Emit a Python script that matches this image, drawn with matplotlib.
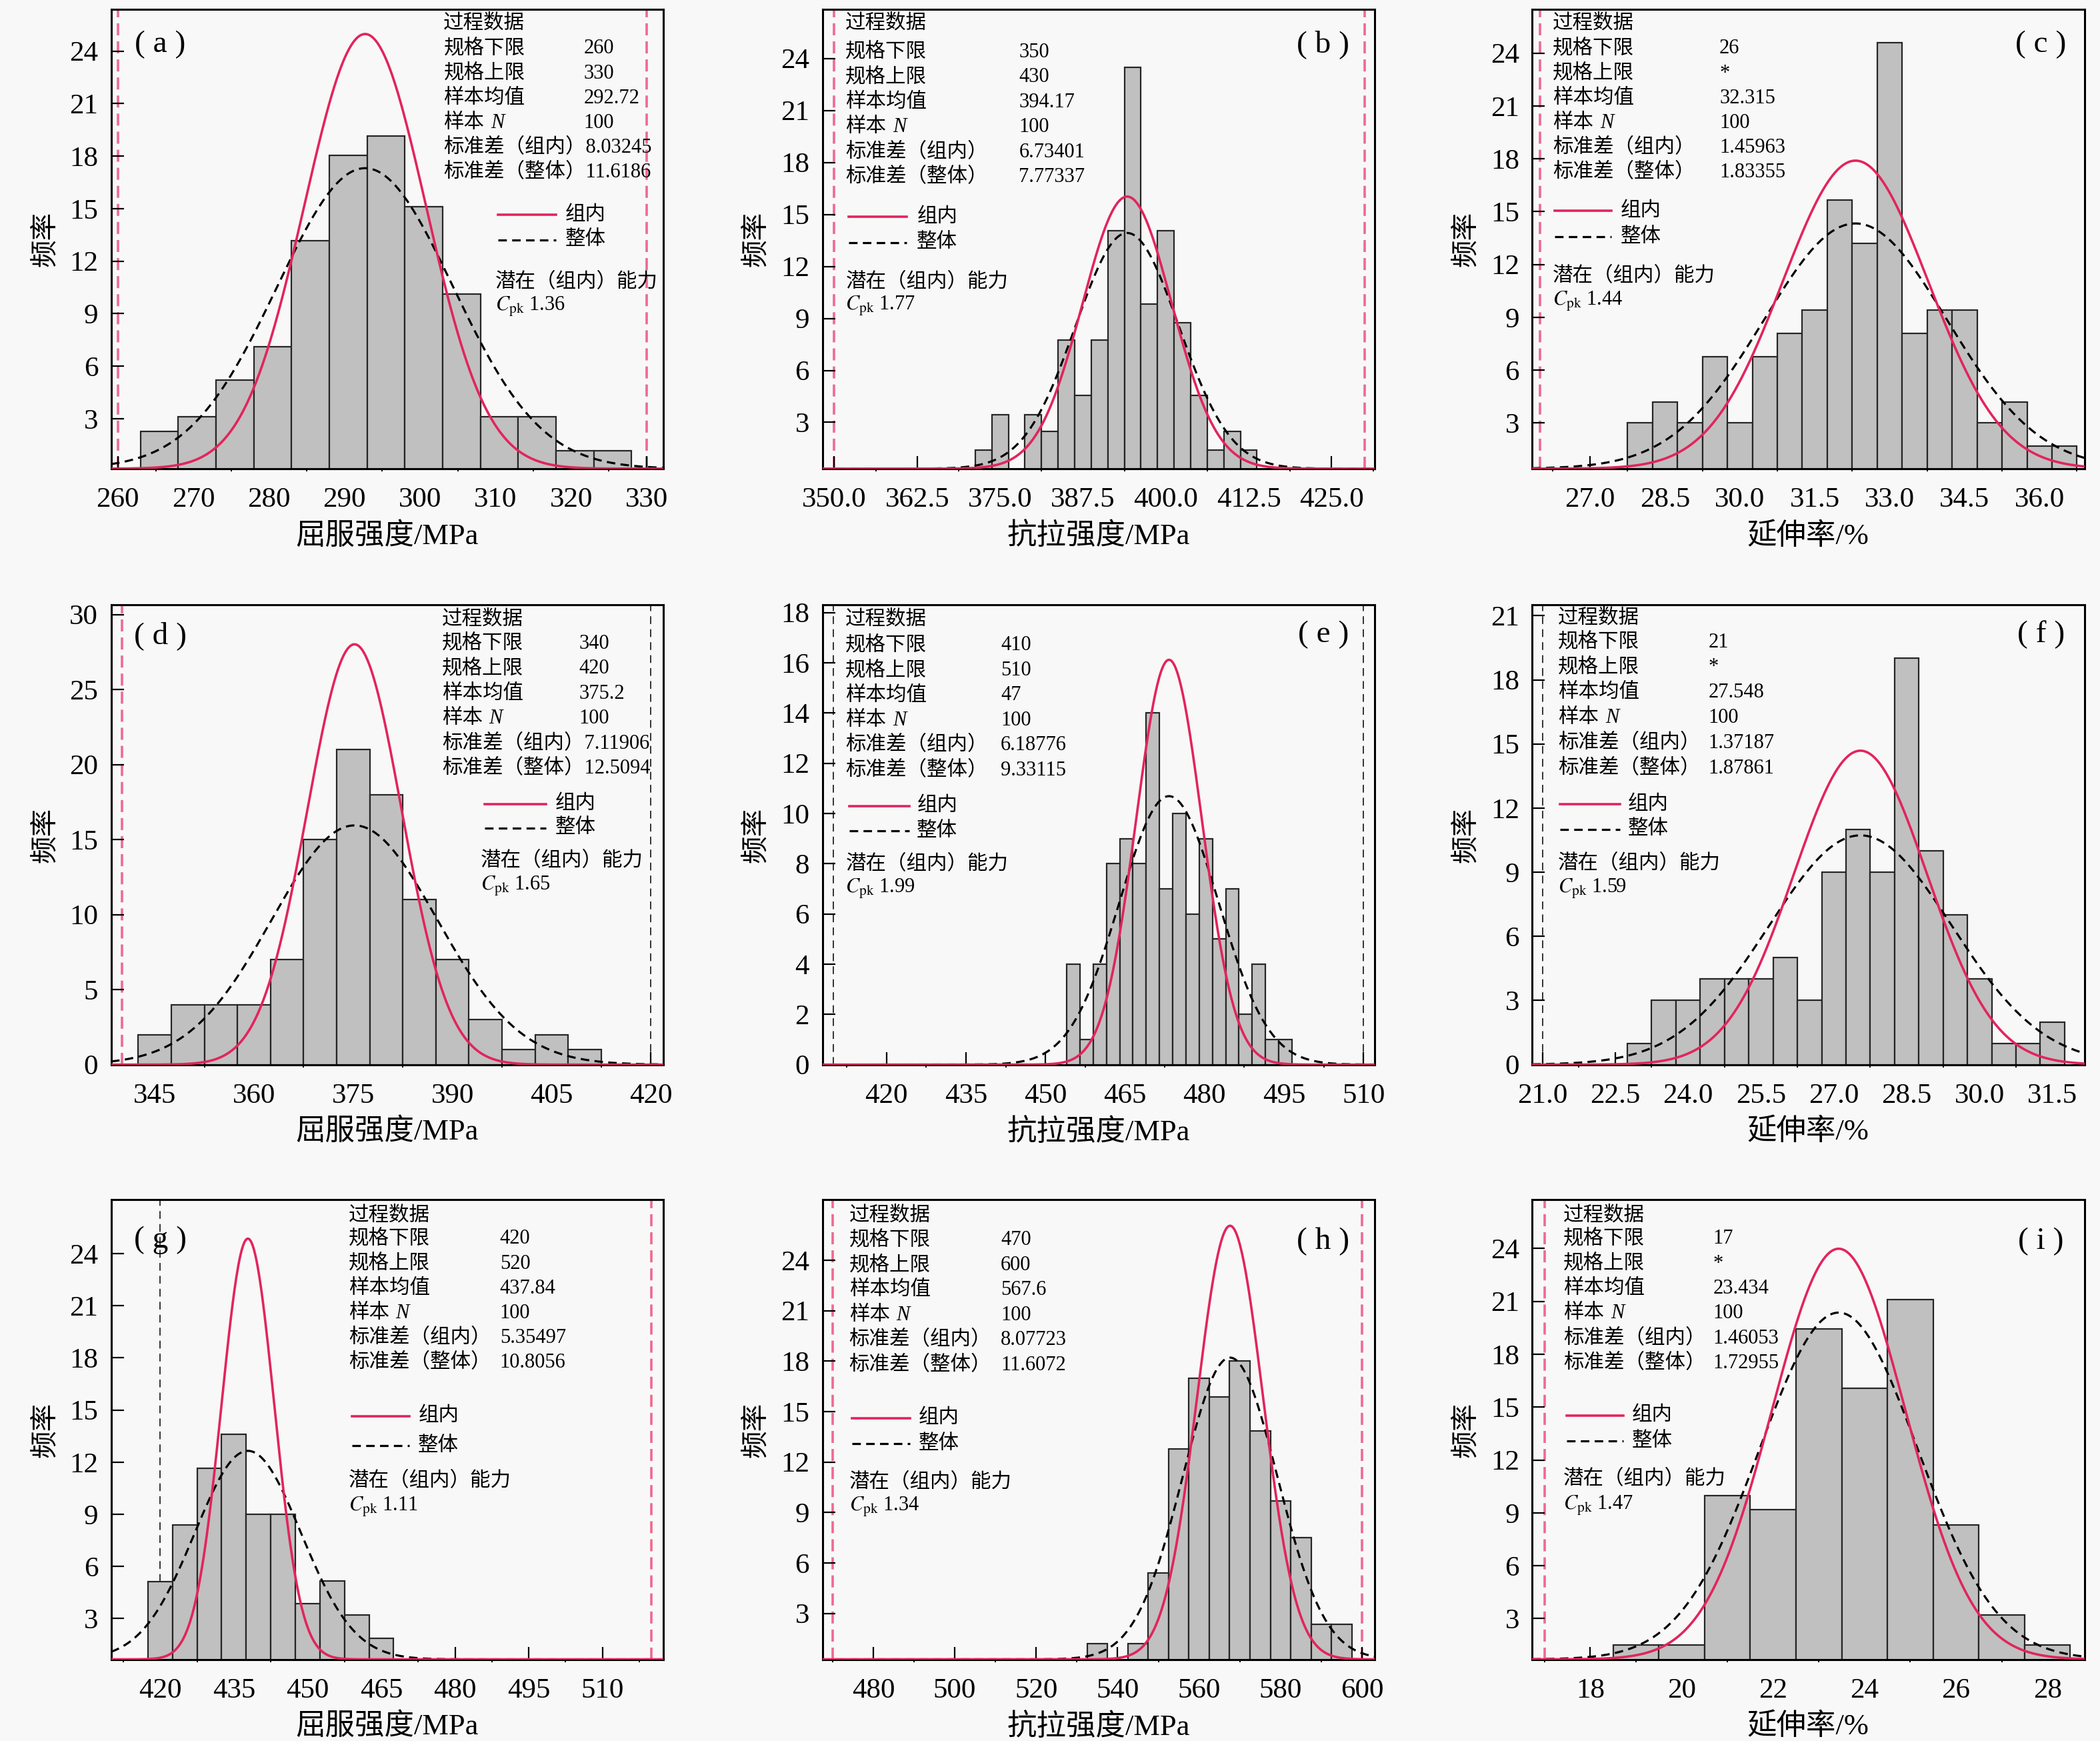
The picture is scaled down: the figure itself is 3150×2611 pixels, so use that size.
import numpy as np
import matplotlib
matplotlib.use("Agg")
import matplotlib.pyplot as plt
from matplotlib.ticker import FixedLocator, FormatStrFormatter, AutoMinorLocator

plt.rcParams['font.family'] = ['Liberation Serif', 'Noto Sans CJK SC']
plt.rcParams['mathtext.fontset'] = 'stix'
plt.rcParams['axes.unicode_minus'] = False

# ---------------- data ----------------
tags = ['a', 'b', 'c', 'd', 'e', 'f', 'g', 'h', 'i']
x_titles = ['屈服强度/MPa', '抗拉强度/MPa', '延伸率/%'] * 3

lsl = [260, 350, 26, 340, 410, 21, 420, 470, 17]
usl = [330, 430, None, 420, 510, None, 520, 600, None]
lsl_text = ['260', '350', '26', '340', '410', '21', '420', '470', '17']
usl_text = ['330', '430', '*', '420', '510', '*', '520', '600', '*']
mean_text = ['292.72', '394.17', '32.315', '375.2', '47', '27.548', '437.84', '567.6', '23.434']
n_text = ['100'] * 9
sdw_text = ['8.03245', '6.73401', '1.45963', '7.11906', '6.18776', '1.37187', '5.35497', '8.07723', '1.46053']
sdo_text = ['11.6186', '7.77337', '1.83355', '12.5094', '9.33115', '1.87861', '10.8056', '11.6072', '1.72955']
cpk_text = ['1.36', '1.77', '1.44', '1.65', '1.99', '1.59', '1.11', '1.34', '1.47']

# centre of the fitted curves (panel e prints "47", curve sits at ~473.3)
curve_mean = [292.72, 394.17, 32.315, 375.2, 473.3, 27.548, 437.84, 567.6, 23.434]
sd_within = [8.03245, 6.73401, 1.45963, 7.11906, 6.18776, 1.37187, 5.35497, 8.07723, 1.46053]
sd_overall = [11.6186, 7.77337, 1.83355, 12.5094, 9.33115, 1.87861, 10.8056, 11.6072, 1.72955]
curve_area = [500, 265, 64, 500, 250, 50.5, 325, 522, 85.3]

bin_start = [263, 371.25, 27.75, 342.5, 454, 22.75, 417.5, 532.5, 18.5]
bin_width = [5, 2.5, 0.5, 5, 2.5, 0.5, 5, 5, 1]

freq_a = [2.25, 3.12, 5.21, 7.12, 13.16, 18.05, 19.13, 15.09, 10.1, 3.12, 3.12, 1.15, 1.15]
freq_b = [1.4, 3.46, 0, 3.46, 2.49, 7.74, 4.55, 7.74, 14.07, 23.48, 9.84, 14.07, 8.77, 4.55, 1.4, 2.49, 1.4]
freq_c = [3.0, 4.2, 3.0, 6.77, 3.0, 6.77, 8.1, 9.4, 15.65, 13.2, 24.6, 8.1, 9.4, 9.4, 3.0, 4.2, 1.7, 1.7]
freq_d = [2, 4, 4, 4, 7, 15, 21, 18, 11, 7, 3, 1, 2, 1]
freq_e = [4, 1, 4, 8, 9, 8, 14, 7, 10, 6, 9, 5, 7, 2, 4, 1, 1]
freq_f = [1, 3, 3, 4, 4, 4, 5, 3, 9, 11, 9, 19, 10, 7, 4, 1, 1, 2]
freq_g = [5.12, 8.38, 11.63, 13.62, 8.99, 8.99, 3.86, 5.16, 3.19, 1.87]
freq_h = [1.21, 0, 1.21, 5.42, 12.79, 17.0, 15.88, 18.0, 13.84, 9.67, 7.52, 2.37, 2.37]
freq_i = [1.5, 1.5, 9.98, 9.18, 19.45, 16.08, 21.11, 8.32, 3.2, 1.5]
freqs = [freq_a, freq_b, freq_c, freq_d, freq_e, freq_f, freq_g, freq_h, freq_i]

xticks = [
    [260, 270, 280, 290, 300, 310, 320, 330],
    [350.0, 362.5, 375.0, 387.5, 400.0, 412.5, 425.0],
    [27.0, 28.5, 30.0, 31.5, 33.0, 34.5, 36.0],
    [345, 360, 375, 390, 405, 420],
    [420, 435, 450, 465, 480, 495, 510],
    [21.0, 22.5, 24.0, 25.5, 27.0, 28.5, 30.0, 31.5],
    [420, 435, 450, 465, 480, 495, 510],
    [480, 500, 520, 540, 560, 580, 600],
    [18, 20, 22, 24, 26, 28],
]
yticks = [
    [3, 6, 9, 12, 15, 18, 21, 24],
    [3, 6, 9, 12, 15, 18, 21, 24],
    [3, 6, 9, 12, 15, 18, 21, 24],
    [0, 5, 10, 15, 20, 25, 30],
    [0, 2, 4, 6, 8, 10, 12, 14, 16, 18],
    [0, 3, 6, 9, 12, 15, 18, 21],
    [3, 6, 9, 12, 15, 18, 21, 24],
    [3, 6, 9, 12, 15, 18, 21, 24],
    [3, 6, 9, 12, 15, 18, 21, 24],
]
xfmt = ['%d', '%.1f', '%.1f', '%d', '%d', '%.1f', '%d', '%d', '%d']

# ---------------- layout / style ----------------
xlims = [(259.1, 332.2), (348.2, 431.5), (25.84, 36.9), (338.4, 421.9), (407.9, 512.1),
         (20.79, 32.16), (410.0, 522.4), (467.5, 603.1), (16.73, 28.81)]
ylims = [(0.14, 26.4), (0.33, 26.85), (0.4, 26.5), (0, 30.64), (0, 18.3),
         (0, 21.5), (0.65, 27.1), (0.27, 27.6), (0.69, 26.77)]
lsl_style = ['pink', 'pink', 'pink', 'pink', 'black', 'black', 'black', 'pink', 'pink']
usl_style = ['pink', 'pink', None, 'black', 'black', None, 'pink', 'pink', None]

# text block: label x, value x, title y, first row y, row step, values joined
tx = [0.602, 0.042, 0.037, 0.599, 0.042, 0.047, 0.430, 0.0485, 0.0565]
vx = [0.856, 0.356, 0.339, 0.847, 0.323, 0.319, 0.704, 0.323, 0.327]
title_y = [0.969, 0.969, 0.969, 0.969, 0.969, 0.971, 0.965, 0.965, 0.965]
row_y0 = [0.914, 0.906, 0.914, 0.916, 0.912, 0.919, 0.915, 0.912, 0.915]
row_dy = [0.054, 0.0544, 0.054, 0.0544, 0.0544, 0.0548, 0.054, 0.0544, 0.0542]
joined = [True, False, False, True, False, False, False, False, False]
leg_x = [(0.701, 0.806), (0.048, 0.153), (0.041, 0.143), (0.677, 0.788), (0.0485, 0.157),
         (0.050, 0.159), (0.436, 0.540), (0.054, 0.159), (0.063, 0.165)]
leg_tx = [0.822, 0.171, 0.160, 0.804, 0.171, 0.173, 0.556, 0.174, 0.180]
leg_y = [(0.552, 0.498), (0.548, 0.492), (0.561, 0.504), (0.567, 0.515), (0.563, 0.508),
         (0.566, 0.512), (0.529, 0.465), (0.525, 0.469), (0.531, 0.475)]
cap_x = [0.696, 0.042, 0.037, 0.669, 0.042, 0.047, 0.430, 0.0485, 0.0565]
cap_y = [(0.406, 0.352), (0.406, 0.354), (0.418, 0.364), (0.442, 0.389), (0.435, 0.383),
         (0.437, 0.383), (0.388, 0.332), (0.385, 0.332), (0.392, 0.334)]
tag_xy = [(0.089, 0.923), (0.907, 0.923), (0.921, 0.923), (0.089, 0.933), (0.907, 0.935),
          (0.921, 0.936), (0.089, 0.912), (0.907, 0.909), (0.921, 0.909)]

col_left = [0.0529, 0.3916, 0.7296]
col_w = 0.263
row_bottom = [0.7308, 0.3885, 0.0469]
row_h = 0.264

BG = '#f8f8f8'
BAR = '#c0c0c0'
EDGE = '#262626'
RED = '#e2245c'
PINK = '#ee6a90'
TXT = 22

fig = plt.figure(figsize=(31.5, 26.11), dpi=100, facecolor=BG)

for i, tag in enumerate(tags):
    r, c = divmod(i, 3)
    ax = fig.add_axes([col_left[c], row_bottom[r], col_w, row_h], facecolor=BG)

    # histogram
    h = freqs[i]
    left = bin_start[i] + bin_width[i] * np.arange(len(h))
    ax.bar(left, h, width=bin_width[i], align='edge', color=BAR,
           edgecolor=EDGE, linewidth=1.6, zorder=2)

    # fitted normal curves (组内 / 整体)
    x = np.linspace(xlims[i][0], xlims[i][1], 600)
    base = ylims[i][0]
    for sd, kw in ((sd_within[i], dict(color=RED, lw=2.6, zorder=4)),
                   (sd_overall[i], dict(color='black', lw=2.3, ls=(0, (4, 2.5)), zorder=3))):
        y = base + curve_area[i] * np.exp(-0.5 * ((x - curve_mean[i]) / sd) ** 2) / (sd * np.sqrt(2 * np.pi))
        ax.plot(x, y, **kw)

    # spec limits
    for val, sty in ((lsl[i], lsl_style[i]), (usl[i], usl_style[i])):
        if val is None:
            continue
        if sty == 'pink':
            ax.axvline(val, color=PINK, lw=2.6, ls=(0, (5, 2.5)), zorder=1)
        else:
            ax.axvline(val, color='#333333', lw=1.4, ls=(0, (6, 4)), zorder=1)

    ax.set_xlim(*xlims[i])
    ax.set_ylim(*ylims[i])
    ax.xaxis.set_major_locator(FixedLocator(xticks[i]))
    ax.xaxis.set_major_formatter(FormatStrFormatter(xfmt[i]))
    ax.xaxis.set_minor_locator(AutoMinorLocator(2))
    ax.yaxis.set_major_locator(FixedLocator(yticks[i]))
    ax.tick_params(axis='both', which='major', direction='in', length=14, width=1.6,
                   labelsize=31, top=False, right=False)
    ax.tick_params(axis='x', which='major', pad=20)
    ax.tick_params(axis='y', which='major', pad=14)
    ax.tick_params(axis='x', which='minor', direction='out', length=3, width=1.4)
    for sp in ax.spines.values():
        sp.set_linewidth(2.2)

    ax.set_xlabel(x_titles[i], fontsize=32, labelpad=10)
    ax.set_ylabel('频率', fontsize=30, labelpad=12)

    # text block
    tr = ax.transAxes
    ax.text(tx[i], title_y[i], '过程数据', transform=tr, fontsize=TXT, va='center', zorder=6)
    rows = [('规格下限', lsl_text[i]), ('规格上限', usl_text[i]), ('样本均值', mean_text[i]),
            ('样本', n_text[i]), ('标准差（组内）', sdw_text[i]), ('标准差（整体）', sdo_text[i])]
    for k, (lab, val) in enumerate(rows):
        yy = row_y0[i] - k * row_dy[i]
        if joined[i] and k >= 4:
            ax.text(tx[i], yy, lab + val, transform=tr, fontsize=TXT, va='center', zorder=6)
        else:
            ax.text(tx[i], yy, lab, transform=tr, fontsize=TXT, va='center', zorder=6)
            ax.text(vx[i], yy, val, transform=tr, fontsize=TXT, va='center', zorder=6)
        if k == 3:
            ax.annotate('N', xy=(tx[i], yy), xycoords=tr, xytext=(51, 0),
                        textcoords='offset points', fontsize=TXT, style='italic',
                        va='center', zorder=6)

    # legend
    x0, x1 = leg_x[i]
    ax.plot([x0, x1], [leg_y[i][0]] * 2, transform=tr, color=RED, lw=2.6, zorder=6)
    ax.plot([x0, x1], [leg_y[i][1]] * 2, transform=tr, color='black', lw=2.3,
            ls=(0, (4, 2.5)), zorder=6)
    ax.text(leg_tx[i], leg_y[i][0], '组内', transform=tr, fontsize=TXT, va='center', zorder=6)
    ax.text(leg_tx[i], leg_y[i][1], '整体', transform=tr, fontsize=TXT, va='center', zorder=6)
    ax.text(cap_x[i], cap_y[i][0], '潜在（组内）能力', transform=tr, fontsize=TXT, va='center', zorder=6)
    ax.text(cap_x[i], cap_y[i][1], r'$C_{\mathrm{pk}}$ ' + cpk_text[i], transform=tr,
            fontsize=TXT, va='center', zorder=6)

    ax.text(tag_xy[i][0], tag_xy[i][1], '( %s )' % tag, transform=tr, fontsize=34,
            ha='center', va='center', zorder=6)

fig.savefig('out.png', dpi=100, facecolor=BG)
